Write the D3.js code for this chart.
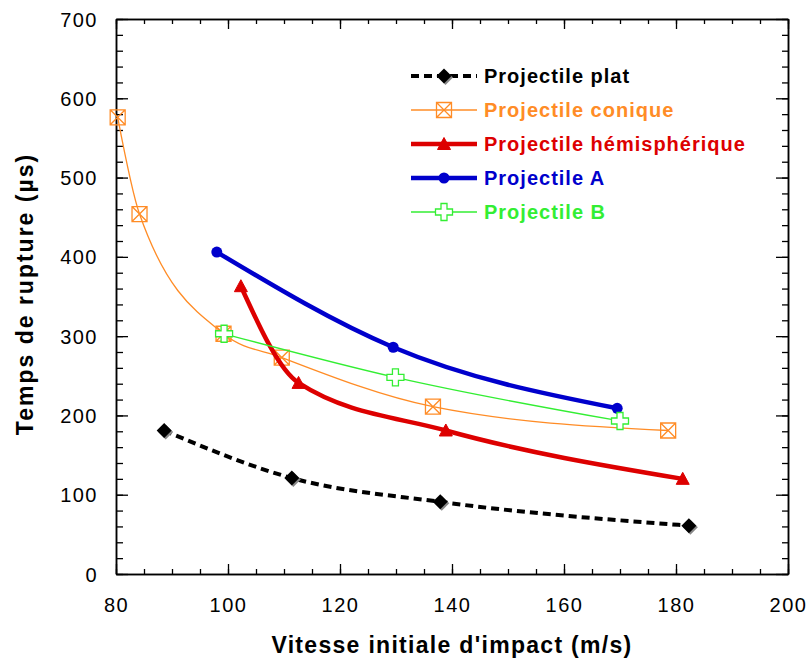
<!DOCTYPE html>
<html><head><meta charset="utf-8">
<script src="https://cdn.jsdelivr.net/npm/d3@7"></script>
<style>body{margin:0;background:#fff}svg{display:block}text{font-family:"Liberation Sans",Arial,sans-serif}</style>
</head><body>
<script>
// ---- data ----
const platX = [88.6, 111.4, 137.9, 182.3];
const platY = [181, 121, 91, 61];
const coniqueX = [80.3, 84.2, 99.2, 109.6, 136.6, 178.6];
const coniqueY = [576, 454, 303, 273, 211, 181];
const hemiX = [102.3, 112.6, 138.9, 181.2];
const hemiY = [363, 241, 181, 120];
const aX = [98, 129.5, 169.5];
const aY = [406, 286, 209];
const bX = [99.3, 129.9, 170];
const bY = [303, 248, 193];
const xTicks = [80, 100, 120, 140, 160, 180, 200];
const yTicks = [0, 100, 200, 300, 400, 500, 600, 700];
const seriesNames = ["Projectile plat", "Projectile conique", "Projectile hémisphérique", "Projectile A", "Projectile B"];
const xTitle = "Vitesse initiale d'impact (m/s)";
const yTitle = "Temps de rupture (µs)";

const W = 807, H = 661;
const L = 116, R = 788, T = 19, B = 574;
const svg = d3.select("body").append("svg").attr("width", W).attr("height", H);
const x = d3.scaleLinear().domain([80, 200]).range([L, R]);
const y = d3.scaleLinear().domain([0, 700]).range([B, T]);

// axes (ticks inward)
function ax(gen, tx, ty, vals, size, labels) {
  const g = svg.append("g").attr("transform", `translate(${tx},${ty})`)
    .call(gen.tickValues(vals).tickSize(size).tickSizeOuter(0).tickFormat(labels ? d3.format("d") : ""));
  g.select(".domain").attr("stroke", "#000").attr("stroke-width", 1.5);
  g.selectAll(".tick line").attr("stroke", "#000").attr("stroke-width", 1.3);
  return g;
}
const xMinor = d3.range(80, 201, 5), yMinor = d3.range(0, 701, 20);
ax(d3.axisBottom(x), 0, B, xMinor, -5, false);
const gx = ax(d3.axisBottom(x), 0, B, xTicks, -10, true);
gx.selectAll(".tick text").attr("y", 38).attr("dy", 0).attr("font-size", 20)
  .attr("letter-spacing", 1.5).attr("fill", "#000");
ax(d3.axisTop(x), 0, T, xMinor, -5, false);
ax(d3.axisTop(x), 0, T, xTicks, -10, false);
ax(d3.axisLeft(y), L, 0, yMinor, -7, false);
const gy = ax(d3.axisLeft(y), L, 0, yTicks, -12, true);
gy.selectAll(".tick text").attr("x", -18).attr("dy", "0.35em").attr("font-size", 20)
  .attr("letter-spacing", 1.5).attr("fill", "#000");
ax(d3.axisRight(y), R, 0, yMinor, -6, false);
ax(d3.axisRight(y), R, 0, yTicks, -12, false);

// titles
svg.append("text").attr("x", 452).attr("y", 653).attr("text-anchor", "middle")
  .attr("font-size", 23).attr("letter-spacing", 1.3).attr("font-weight", "bold").text(xTitle);
svg.append("text").attr("transform", "translate(33,294) rotate(-90)").attr("text-anchor", "middle")
  .attr("font-size", 23).attr("letter-spacing", 2).attr("font-weight", "bold").text(yTitle);

// markers
const markers = {
  diamond: "M0,-7.5L7.5,0L0,7.5L-7.5,0Z",
  square: "M-7.5,-7.5H7.5V7.5H-7.5ZM-7.5,-7.5L7.5,7.5M7.5,-7.5L-7.5,7.5",
  triangle: "M0,-6.5L6.5,5.5H-6.5Z",
  cross: "M-3,-8.5H3V-3H8.5V3H3V8.5H-3V3H-8.5V-3H-3Z"
};
const series = [
  {xs: platX, ys: platY, color: "#000", w: 4, dash: "8,5", m: "diamond", fill: "#000", sw: 1},
  {xs: coniqueX, ys: coniqueY, color: "#FF8C26", w: 1.3, dash: null, m: "square", fill: "none", sw: 1.3},
  {xs: hemiX, ys: hemiY, color: "#DD0000", w: 4.5, dash: null, m: "triangle", fill: "#DD0000", sw: 1},
  {xs: aX, ys: aY, color: "#0000CC", w: 4.5, dash: null, m: "circle", fill: "#0000CC", sw: 1},
  {xs: bX, ys: bY, color: "#33EE33", w: 1.3, dash: null, m: "cross", fill: "#fff", sw: 1.3}
];
const line = d3.line().x(d => x(d[0])).y(d => y(d[1])).curve(d3.curveMonotoneX);
function marker(g, s, px, py) {
  if (s.m === "circle") {
    g.append("circle").attr("cx", px).attr("cy", py).attr("r", 5.5).attr("fill", s.fill);
  } else {
    if (s.m === "diamond") g.append("path").attr("d", markers.diamond).attr("transform", `translate(${px + 1.5},${py + 1.5})`).attr("fill", "#888");
    g.append("path").attr("d", markers[s.m]).attr("transform", `translate(${px},${py})`)
      .attr("fill", s.fill).attr("stroke", s.m === "diamond" ? "none" : s.color).attr("stroke-width", s.sw);
  }
}
series.forEach(s => {
  const pts = s.xs.map((v, i) => [v, s.ys[i]]);
  const g = svg.append("g");
  g.append("path").attr("d", line(pts)).attr("fill", "none").attr("stroke", s.color)
    .attr("stroke-width", s.w).attr("stroke-dasharray", s.dash);
  pts.forEach(p => marker(g, s, x(p[0]), y(p[1])));
});

// legend
const legY = [76, 110, 144, 178, 212];
series.forEach((s, i) => {
  const g = svg.append("g");
  g.append("line").attr("x1", 411).attr("x2", 477).attr("y1", legY[i]).attr("y2", legY[i])
    .attr("stroke", s.color).attr("stroke-width", s.w).attr("stroke-dasharray", s.dash);
  marker(g, s, 444, legY[i]);
  g.append("text").attr("x", 484).attr("y", legY[i]).attr("dy", "0.36em")
    .attr("font-size", 20).attr("letter-spacing", 1).attr("font-weight", "bold").attr("fill", s.color).text(seriesNames[i]);
});
</script>
</body></html>
